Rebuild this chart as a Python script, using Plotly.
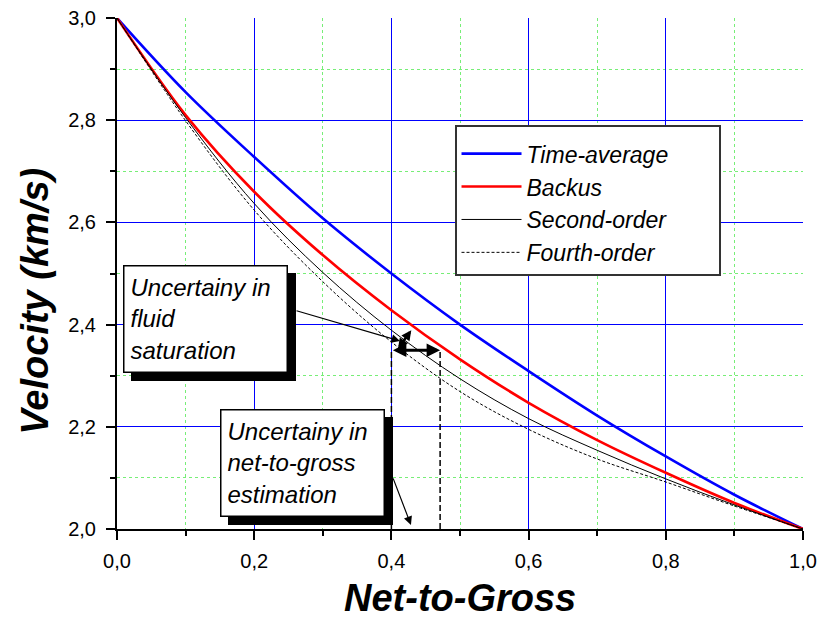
import plotly.graph_objects as go

# ---- data ----
ntg = [0.0, 0.1, 0.2, 0.3, 0.4, 0.5, 0.6, 0.7, 0.8, 0.9, 1.0]
time_average = [3.000, 2.855, 2.728, 2.608, 2.500, 2.400, 2.309, 2.222, 2.142, 2.067, 2.000]
backus = [3.000, 2.810, 2.660, 2.536, 2.428, 2.332, 2.247, 2.174, 2.110, 2.051, 2.000]
second_order = [3.000, 2.805, 2.637, 2.502, 2.389, 2.294, 2.216, 2.154, 2.098, 2.047, 2.000]
fourth_order = [3.000, 2.799, 2.624, 2.484, 2.366, 2.269, 2.195, 2.137, 2.092, 2.045, 2.000]

x_ticks = [0.0, 0.2, 0.4, 0.6, 0.8, 1.0]
y_ticks = [2.0, 2.2, 2.4, 2.6, 2.8, 3.0]
x_minor = [0.1, 0.3, 0.5, 0.7, 0.9]
y_minor = [2.1, 2.3, 2.5, 2.7, 2.9]

# uncertainty markers
ntg_low, ntg_high = 0.4, 0.471
vel_level = 2.35
v_min = 2.0
diag_start = (0.408, 2.350)
diag_end = (0.429, 2.389)
fluid_ptr_tail = (0.2595, 2.428)
fluid_ptr_head = (0.4125, 2.368)
ntg_ptr_tail = (0.4017, 2.102)
ntg_ptr_head = (0.4285, 2.008)
fluid_box_pos = (0.1283, 2.411)
ntg_box_pos = (0.2704, 2.129)
fluid_text = "Uncertainy in<br>fluid<br>saturation"
ntg_text = "Uncertainy in<br>net-to-gross<br>estimation"
y_title = "Velocity (km/s)"
x_title = "Net-to-Gross"

FONT = "Liberation Sans, Arial, sans-serif"
PAD = "\u00a0" * 7
BOX_W, BOX_H = 150, 93

fig = go.Figure()

fig.add_trace(go.Scatter(x=ntg, y=time_average, name="Time-average" + PAD, mode="lines",
                         line=dict(color="#0000FF", width=2.6, shape="spline")))
fig.add_trace(go.Scatter(x=ntg, y=backus, name="Backus", mode="lines",
                         line=dict(color="#FF0000", width=2.6, shape="spline")))
fig.add_trace(go.Scatter(x=ntg, y=second_order, name="Second-order", mode="lines",
                         line=dict(color="#000000", width=1, shape="spline")))
fig.add_trace(go.Scatter(x=ntg, y=fourth_order, name="Fourth-order", mode="lines",
                         line=dict(color="#000000", width=1, dash="3px,2px", shape="spline")))

for xv in (ntg_low, ntg_high):
    fig.add_trace(go.Scatter(x=[xv, xv], y=[v_min, vel_level], mode="lines",
                             line=dict(color="#000000", width=1.5, dash="6px,3px"),
                             showlegend=False, hoverinfo="skip"))

annotations = []
annotations.append(dict(x=ntg_high, y=vel_level, ax=ntg_low, ay=vel_level, axref="x", ayref="y",
                        xref="x", yref="y", text="", showarrow=True, arrowside="end+start",
                        arrowhead=2, arrowsize=0.9, arrowwidth=3, arrowcolor="#000000"))
annotations.append(dict(x=diag_end[0], y=diag_end[1], ax=diag_start[0], ay=diag_start[1],
                        axref="x", ayref="y", xref="x", yref="y", text="", showarrow=True,
                        arrowside="end+start", arrowhead=2, arrowsize=0.8, arrowwidth=2.5,
                        arrowcolor="#000000"))
annotations.append(dict(x=fluid_ptr_head[0], y=fluid_ptr_head[1], ax=fluid_ptr_tail[0],
                        ay=fluid_ptr_tail[1], axref="x", ayref="y", xref="x", yref="y", text="",
                        showarrow=True, arrowhead=2, arrowsize=1.4, arrowwidth=1.2,
                        arrowcolor="#000000"))
annotations.append(dict(x=ntg_ptr_head[0], y=ntg_ptr_head[1], ax=ntg_ptr_tail[0],
                        ay=ntg_ptr_tail[1], axref="x", ayref="y", xref="x", yref="y", text="",
                        showarrow=True, arrowhead=2, arrowsize=1.4, arrowwidth=1.2,
                        arrowcolor="#000000"))
box_font = dict(family=FONT, size=24, color="#000000", style="italic")
for (bx, by), txt in ((fluid_box_pos, fluid_text), (ntg_box_pos, ntg_text)):
    # drop shadow
    annotations.append(dict(x=bx, y=by, xref="x", yref="y", text="\u00a0", showarrow=False,
                            xshift=8, yshift=-8, width=BOX_W, height=BOX_H, font=box_font,
                            bgcolor="#000000", bordercolor="#000000", borderwidth=1.5,
                            borderpad=6))
    annotations.append(dict(x=bx, y=by, xref="x", yref="y", text=txt, showarrow=False,
                            align="left", valign="middle", width=BOX_W, height=BOX_H,
                            font=box_font, bgcolor="#FFFFFF", bordercolor="#000000",
                            borderwidth=1.5, borderpad=6))
title_font = dict(family=FONT, size=38, color="#000000", weight="bold", style="italic")
annotations.append(dict(x=-0.1195, y=0.445, xref="paper", yref="paper", text=y_title,
                        showarrow=False, textangle=-90, xanchor="center", yanchor="middle",
                        font=title_font))
annotations.append(dict(x=0.5, y=-0.136, xref="paper", yref="paper", text=x_title,
                        showarrow=False, xanchor="center", yanchor="middle",
                        font=title_font))

axis_common = dict(showline=True, linecolor="#000000", linewidth=2, zeroline=False,
                   ticks="outside", ticklen=9, tickwidth=2, tickcolor="#000000",
                   tickformat=".1f", showgrid=True, gridcolor="#0000FF", gridwidth=1,
                   automargin=False,
                   tickfont=dict(family=FONT, size=20, color="#000000"))

fig.update_layout(
    width=831, height=618,
    margin=dict(l=117, r=28, t=18, b=89, autoexpand=False),
    paper_bgcolor="#FFFFFF", plot_bgcolor="#FFFFFF",
    separators=", ",
    font=dict(family=FONT, size=17, color="#000000"),
    showlegend=True,
    legend=dict(x=0.492, y=0.7906, xanchor="left", yanchor="top",
                bgcolor="#FFFFFF", bordercolor="#333333", borderwidth=2,
                font=dict(family=FONT, size=23, color="#000000", style="italic"),
                title=dict(text=" ", font=dict(size=4)),
                itemwidth=60, tracegroupgap=0),
    xaxis=dict(range=[0, 1], tickvals=x_ticks, ticklabelstandoff=4,
               minor=dict(tickvals=x_minor, ticks="outside", ticklen=5, tickwidth=1.5,
                          tickcolor="#000000", showgrid=True, gridcolor="#77EE77",
                          griddash="dot", gridwidth=1),
               **axis_common),
    yaxis=dict(range=[2, 3], tickvals=y_ticks, ticklabelstandoff=6,
               minor=dict(tickvals=y_minor, ticks="outside", ticklen=5, tickwidth=1.5,
                          tickcolor="#000000", showgrid=True, gridcolor="#77EE77",
                          griddash="dot", gridwidth=1),
               **axis_common),
    annotations=annotations,
)

fig.write_html("out.html")
